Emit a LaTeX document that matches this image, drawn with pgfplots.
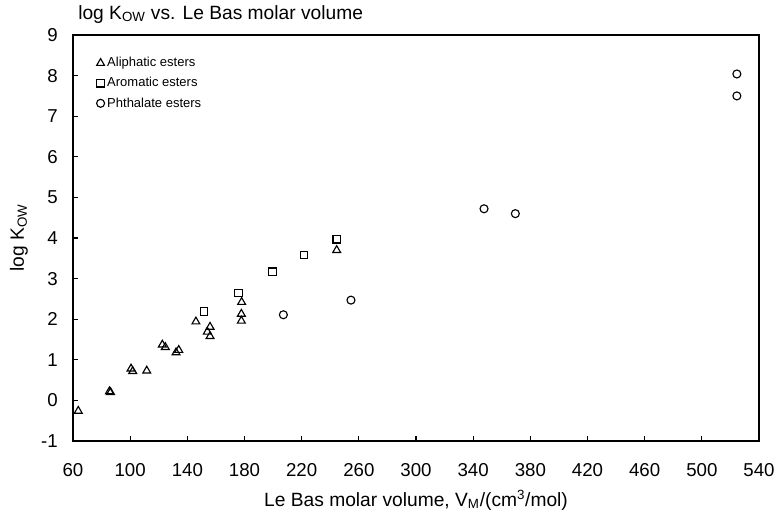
\documentclass[border=0pt]{standalone}
\usepackage{fontspec}
\setmainfont{Liberation Sans}
\usepackage{pgfplots}
\pgfplotsset{compat=1.18}

\begin{document}
\begin{tikzpicture}
\begin{axis}[
  scale only axis,
  width=514.5pt, height=304.5pt,
  xmin=60, xmax=540, ymin=-1, ymax=9,
  xtick={60,100,...,540}, ytick={-1,0,...,9},
  tick pos=left, tick align=inside,
  major tick length=3.75pt,
  tick style={black, line width=0.8pt},
  axis line style={line width=1pt},
  clip=false,
  /pgf/number format/assume math mode=true,
  ticklabel style={font=\fontsize{14}{16}\selectfont},
  xticklabel style={anchor=north, inner sep=0pt, yshift=-16.5pt},
  yticklabel style={anchor=east, inner sep=0pt, xshift=-11.25pt},
  title={log K\textsubscript{OW} vs. Le Bas molar volume},
  title style={at={(axis description cs:0.0073,1.0197)}, anchor=base west, inner sep=0pt,
    font=\fontsize{14.4}{16}\selectfont},
  xlabel={Le Bas molar volume, V\textsubscript{M}/(cm\textsuperscript{3}/mol)},
  xlabel style={at={(axis description cs:0.5,-0.1601)}, anchor=base, inner sep=0pt,
    font=\fontsize{14.4}{16}\selectfont},
  ylabel={log K\textsubscript{OW}},
  ylabel style={at={(axis description cs:-0.0787,0.5)}, anchor=center, inner sep=0pt,
    font=\fontsize{14.4}{16}\selectfont},
  legend style={at={(axis description cs:0.034,0.952)}, anchor=north west,
    draw=none, fill=none, inner sep=0pt, row sep=2.5pt,
    font=\fontsize{9.75}{11}\selectfont, cells={anchor=west}},
  legend image code/.code={\draw[mark repeat=2,mark phase=2] plot coordinates {(0cm,0cm)(0.12cm,0cm)(0.24cm,0cm)};},
]
% aliphatic esters
\addplot[only marks, mark=triangle, mark size=3.4pt, mark options={black, line width=0.85pt}] coordinates {
  (63.7,-0.26) (85.5,0.22) (86.3,0.20) (100.6,0.78) (101.8,0.72) (111.6,0.73)
  (122.5,1.37) (124.6,1.31) (132.1,1.18) (134.0,1.24) (146.0,1.94)
  (154.0,1.69) (155.9,1.81) (155.9,1.58) (178.0,2.42) (177.8,2.13) (177.8,1.96)
  (244.5,3.70)
};
% aromatic esters
\addplot[only marks, mark=square, mark size=2.8pt, mark options={black, line width=0.85pt}] coordinates {
  (151.7,2.19) (175.7,2.65) (199.7,3.17) (221.6,3.58) (244.5,3.97)
};
% phthalate esters
\addplot[only marks, mark=o, mark size=3pt, mark options={black, line width=0.85pt}] coordinates {
  (207.2,2.11) (254.5,2.47) (347.6,4.72) (369.5,4.60) (524.5,8.04) (524.5,7.50)
};
\legend{Aliphatic esters, Aromatic esters, Phthalate esters}
\path (axis description cs:-0.1064,-0.1847) rectangle (axis description cs:1.0306,1.0862);
\end{axis}
\end{tikzpicture}
\end{document}
